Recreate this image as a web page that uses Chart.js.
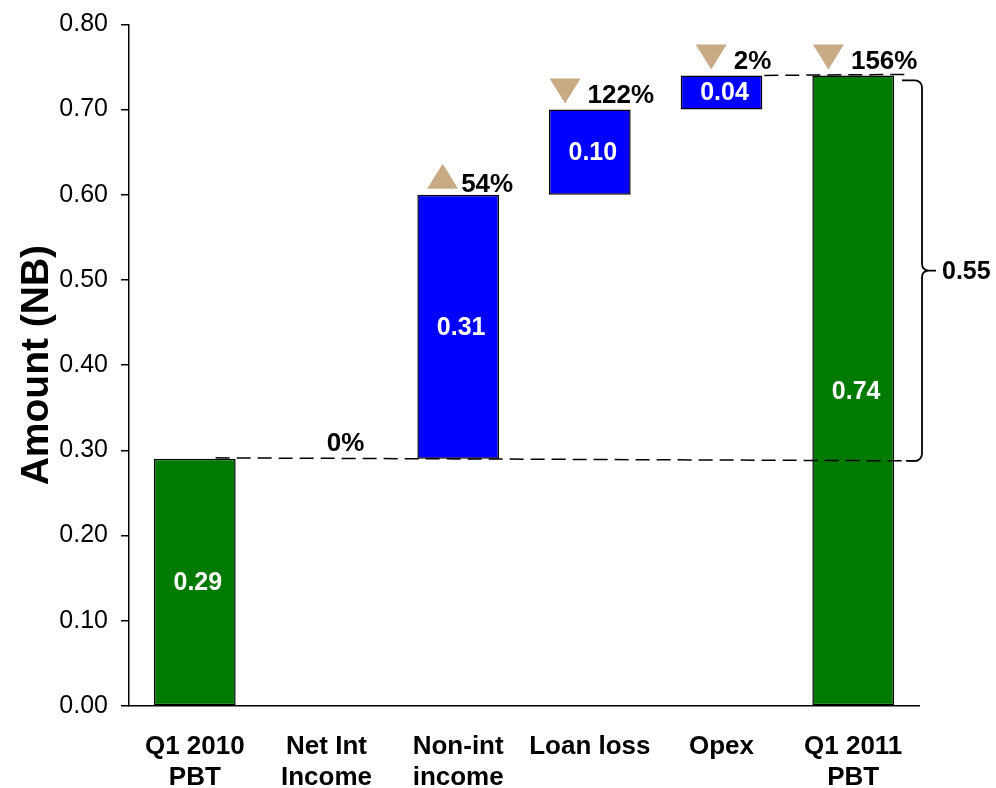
<!DOCTYPE html>
<html><head><meta charset="utf-8">
<script src="https://cdn.jsdelivr.net/npm/chart.js@4/dist/chart.umd.min.js"></script>
<style>html,body{margin:0;padding:0;background:#fff}#wrap{width:996px;height:788px}</style>
</head><body><div id="wrap"><canvas id="c" width="996" height="788"></canvas></div>
<script>
const categories = [['Q1 2010','PBT'],['Net Int','Income'],['Non-int','income'],['Loan loss'],['Opex'],['Q1 2011','PBT']];
const values = [0.29, 0.00, 0.31, 0.10, 0.04, 0.74];
const isTotal = [true, false, false, false, false, true];
const changePct = ['', '0%', '54%', '122%', '2%', '156%'];
const changeDir = [0, 0, 1, -1, -1, -1];
const yTickValues = [0, 0.1, 0.2, 0.3, 0.4, 0.5, 0.6, 0.7, 0.8];
const bridgeLabel = '0.55';

const GREEN = '#007A00', BLUE = '#0000FF', TAN = '#C8AB85';
const FONT = '"Liberation Sans", Arial, sans-serif';

// floating ranges
const ranges = [];
let running = 0;
values.forEach((v, i) => {
  if (isTotal[i]) { ranges.push([0, v]); running = v; }
  else if (v === 0) { ranges.push(null); }
  else { ranges.push([running, +(running + v).toFixed(4)]); running += v; }
});
const baseBefore = [];
running = 0;
values.forEach((v, i) => { baseBefore.push(isTotal[i] ? 0 : running); running = isTotal[i] ? v : running + v; });

const overlay = {
  id: 'overlay',
  afterDatasetsDraw(chart) {
    const ctx = chart.ctx, xs = chart.scales.x, ys = chart.scales.y, ca = chart.chartArea;
    const meta = chart.getDatasetMeta(0);
    ctx.save();
    // value labels
    ctx.fillStyle = '#fff';
    ctx.font = 'bold 25px ' + FONT;
    ctx.textAlign = 'center'; ctx.textBaseline = 'middle';
    values.forEach((v, i) => {
      if (!ranges[i]) return;
      const x = xs.getPixelForValue(i);
      const yc = (ys.getPixelForValue(ranges[i][0]) + ys.getPixelForValue(ranges[i][1])) / 2;
      ctx.fillText(v.toFixed(2), x + 3, yc + 1);
    });
    // dashed connectors
    ctx.strokeStyle = '#000'; ctx.lineWidth = 1.5; ctx.setLineDash([14, 7]);
    const first = meta.data[0], opex = meta.data[4];
    const bx = ca.right + 3;
    const yStart = ys.getPixelForValue(values[0]), yEnd = ys.getPixelForValue(values[5]);
    ctx.beginPath();
    ctx.moveTo(first.x + first.width / 2 - 20, yStart - 1);
    ctx.lineTo(bx - 4, yStart + 2);
    ctx.stroke();
    ctx.beginPath();
    ctx.moveTo(opex.x + opex.width / 2 + 2, yEnd);
    ctx.lineTo(bx - 16, yEnd - 1);
    ctx.stroke();
    ctx.setLineDash([]);
    // bracket
    const yT = yEnd + 5, yB = yStart + 2, ym = (yT + yB) / 2, r = 7;
    ctx.lineWidth = 1.8;
    ctx.beginPath();
    ctx.moveTo(bx - 20, yT);
    ctx.arcTo(bx, yT, bx, yT + r, r);
    ctx.lineTo(bx, ym - r);
    ctx.quadraticCurveTo(bx, ym, bx + r, ym);
    ctx.lineTo(bx + 14, ym);
    ctx.moveTo(bx + r, ym);
    ctx.quadraticCurveTo(bx, ym, bx, ym + r);
    ctx.lineTo(bx, yB - r);
    ctx.arcTo(bx, yB, bx - r, yB, r);
    ctx.lineTo(bx - 16, yB);
    ctx.stroke();
    ctx.fillStyle = '#000';
    ctx.font = 'bold 25px ' + FONT;
    ctx.textAlign = 'left'; ctx.textBaseline = 'middle';
    ctx.fillText(bridgeLabel, bx + 20, ym + 1);
    // change markers
    ctx.font = 'bold 26px ' + FONT;
    ctx.textBaseline = 'alphabetic';
    changePct.forEach((t, i) => {
      if (!t) return;
      const xc = xs.getPixelForValue(i);
      if (changeDir[i] === 0) {
        ctx.textAlign = 'center';
        ctx.fillText(t, xc + 19, ys.getPixelForValue(baseBefore[i]) - 8);
        return;
      }
      const top = ys.getPixelForValue(ranges[i][1]);
      const tw = ctx.measureText(t).width;
      const triW = 31, triH = 25, gap = changeDir[i] > 0 ? 3 : 7;
      const gw = triW + gap + tw;
      const gx = xc + 12 - gw / 2;
      const bot = top - 6;
      ctx.fillStyle = TAN;
      ctx.beginPath();
      if (changeDir[i] > 0) {
        ctx.moveTo(gx, bot); ctx.lineTo(gx + triW, bot); ctx.lineTo(gx + triW / 2, bot - triH);
      } else {
        ctx.moveTo(gx, bot - triH); ctx.lineTo(gx + triW, bot - triH); ctx.lineTo(gx + triW / 2, bot);
      }
      ctx.closePath(); ctx.fill();
      ctx.fillStyle = '#000';
      ctx.textAlign = 'left';
      ctx.fillText(t, gx + triW + gap, bot + (changeDir[i] > 0 ? 3 : 0));
    });
    ctx.restore();
  }
};

new Chart(document.getElementById('c'), {
  type: 'bar',
  data: {
    labels: categories,
    datasets: [{
      data: ranges,
      backgroundColor: isTotal.map(t => t ? GREEN : BLUE),
      borderColor: '#000',
      borderWidth: 1.5,
      borderSkipped: false,
      barPercentage: 0.62,
      categoryPercentage: 1.0
    }]
  },
  options: {
    responsive: false,
    animation: false,
    layout: { padding: { top: 24, right: 77, left: 0, bottom: 0 } },
    plugins: { legend: { display: false }, tooltip: { enabled: false } },
    scales: {
      x: {
        grid: { display: true, drawOnChartArea: false, drawTicks: false },
        border: { display: true, color: '#000', width: 1.5 },
        ticks: { color: '#000', font: { family: FONT, size: 26, weight: 'bold', lineHeight: 1.2 }, padding: 25, maxRotation: 0, autoSkip: false },
        afterFit(s) { s.height = 82; }
      },
      y: {
        min: 0, max: 0.8,
        afterBuildTicks(s) { s.ticks = yTickValues.map(v => ({ value: v })); },
        grid: { display: true, drawOnChartArea: false, tickLength: 8, color: '#000', lineWidth: 1.5 },
        border: { display: true, color: '#000', width: 1.5 },
        ticks: { color: '#000', font: { family: FONT, size: 25, lineHeight: 0.9 }, padding: 13, callback: v => Number(v).toFixed(2) },
        title: { display: true, text: 'Amount (NB)', color: '#000', font: { family: FONT, size: 39, weight: 'bold' }, padding: { top: 14, bottom: 0 } },
        afterFit(s) { s.width = 129; }
      }
    }
  },
  plugins: [overlay]
});
</script></body></html>
